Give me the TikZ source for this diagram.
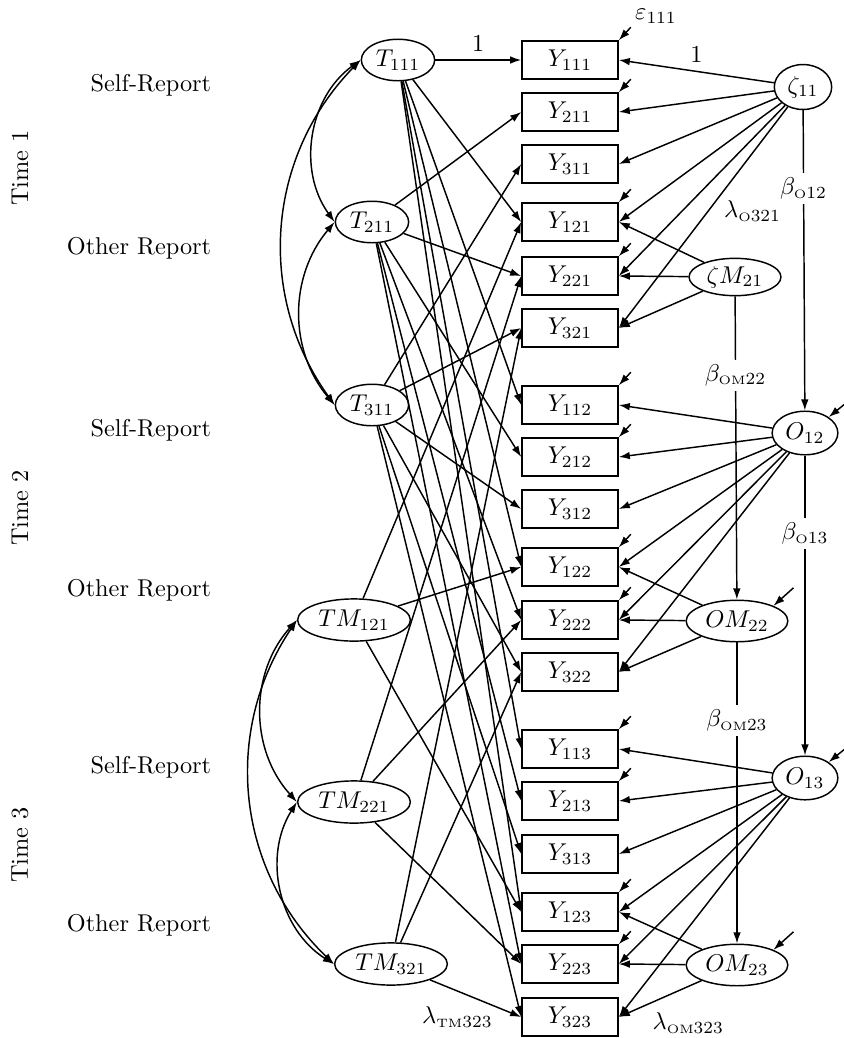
\documentclass[tikz,border=0pt]{standalone}
\usepackage{amsmath}
\usetikzlibrary{arrows.meta,shapes.geometric}
\tikzset{
  >={Latex[length=1.6mm,width=1.1mm]},
  every node/.style={font=\normalsize},
  obs/.style={draw,rectangle,minimum width=13.9mm,minimum height=5.5mm,inner sep=1pt},
  trait/.style={draw,ellipse,minimum width=10.6mm,minimum height=6mm,inner sep=0pt},
  tmeth/.style={trait,minimum width=16.3mm,minimum height=6.1mm},
  occ/.style={draw,ellipse,minimum width=9.5mm,minimum height=6.3mm,inner sep=0pt},
  occm/.style={occ,minimum width=14.7mm,minimum height=6mm},
  load/.style={->,semithick},
  corr/.style={<->,semithick},
  resid/.style={->,semithick},
  betalbl/.style={fill=white,inner sep=2pt,pos=.26},
  report/.style={anchor=east},
  timelbl/.style={rotate=90},
}
\newcommand{\lsub}[1]{{\scriptscriptstyle\mathrm{#1}}}

\begin{document}
\begin{tikzpicture}[x=0.1446mm,y=-0.1446mm,semithick]
  \useasboundingbox (0,0) rectangle (843,1038);

  % rows
  \node[timelbl] (time1) at (20,168) {Time 1};
  \node[timelbl] (time2) at (20,508) {Time 2};
  \node[timelbl] (time3) at (20,845) {Time 3};
  \node[report] (self1) at (220,85) {Self-Report};
  \node[report] (other1) at (220,248) {Other Report};
  \node[report] (self2) at (220,430) {Self-Report};
  \node[report] (other2) at (220,590) {Other Report};
  \node[report] (self3) at (220,767) {Self-Report};
  \node[report] (other3) at (220,925) {Other Report};

  % observed
  \node[obs] (y111) at (570,60) {$Y_{111}$};
  \node[obs] (y211) at (570,112) {$Y_{211}$};
  \node[obs] (y311) at (570,164) {$Y_{311}$};
  \node[obs] (y121) at (570,222) {$Y_{121}$};
  \node[obs] (y221) at (570,276) {$Y_{221}$};
  \node[obs] (y321) at (570,328) {$Y_{321}$};
  \node[obs] (y112) at (570,405) {$Y_{112}$};
  \node[obs] (y212) at (570,457) {$Y_{212}$};
  \node[obs] (y312) at (570,509) {$Y_{312}$};
  \node[obs] (y122) at (570,567) {$Y_{122}$};
  \node[obs] (y222) at (570,620) {$Y_{222}$};
  \node[obs] (y322) at (570,672) {$Y_{322}$};
  \node[obs] (y113) at (570,749) {$Y_{113}$};
  \node[obs] (y213) at (570,801) {$Y_{213}$};
  \node[obs] (y313) at (570,854) {$Y_{313}$};
  \node[obs] (y123) at (570,912) {$Y_{123}$};
  \node[obs] (y223) at (570,964) {$Y_{223}$};
  \node[obs] (y323) at (570,1017) {$Y_{323}$};

  % traits
  \node[trait] (t111) at (398,60) {$T_{111}$};
  \node[trait] (t211) at (372,222) {$T_{211}$};
  \node[trait] (t311) at (372,405) {$T_{311}$};
  \node[tmeth] (tm121) at (354,620) {$TM_{121}$};
  \node[tmeth] (tm221) at (354,802) {$TM_{221}$};
  \node[tmeth] (tm321) at (391,964) {$TM_{321}$};

  % occasions
  \node[occ,minimum width=8.3mm,minimum height=6.5mm] (z11) at (803,87) {$\zeta_{11}$};
  \node[occm,minimum width=13.3mm,minimum height=5.4mm] (zm21) at (735,277) {$\zeta M_{21}$};
  \node[occ] (o12) at (805,433) {$O_{12}$};
  \node[occm] (om22) at (737,621) {$OM_{22}$};
  \node[occ] (o13) at (805,778) {$O_{13}$};
  \node[occm] (om23) at (737,965) {$OM_{23}$};

  % trait loadings
  \draw[load] (t111) -- node[above]{1} (y111.west);
  \draw[load] (t111) -- (y121.west); \draw[load] (t111) -- (y112.west); \draw[load] (t111) -- (y122.west);
  \draw[load] (t111) -- (y113.west); \draw[load] (t111) -- (y123.west);
  \draw[load] (t211) -- (y211.west); \draw[load] (t211) -- (y221.west); \draw[load] (t211) -- (y212.west);
  \draw[load] (t211) -- (y222.west); \draw[load] (t211) -- (y213.west); \draw[load] (t211) -- (y223.west);
  \draw[load] (t311) -- (y311.west); \draw[load] (t311) -- (y321.west); \draw[load] (t311) -- (y312.west);
  \draw[load] (t311) -- (y322.west); \draw[load] (t311) -- (y313.west); \draw[load] (t311) -- (y323.west);
  \draw[load] (tm121) -- (y121.west); \draw[load] (tm121) -- (y122.west); \draw[load] (tm121) -- (y123.west);
  \draw[load] (tm221) -- (y221.west); \draw[load] (tm221) -- (y222.west); \draw[load] (tm221) -- (y223.west);
  \draw[load] (tm321) -- (y321.west); \draw[load] (tm321) -- (y322.west);
  \draw[load] (tm321) -- node[below=1mm,pos=.3]{$\lambda_{\lsub{TM}323}$} (y323.west);

  % trait correlations
  \draw[corr] (t111.west) to[bend right=45] (t211.west);
  \draw[corr] (t211.west) to[bend right=40] (t311.west);
  \draw[corr] (t111.west) to[bend right=40] (t311.west);
  \draw[corr] (tm121.west) to[bend right=42] (tm221.west);
  \draw[corr] (tm221.west) to[bend right=45] (tm321.west);
  \draw[corr] (tm121.west) to[bend right=40] (tm321.west);

  % occasion loadings
  \draw[load] (z11) -- node[above]{1} (y111.east);
  \draw[load] (z11) -- (y211.east); \draw[load] (z11) -- (y311.east); \draw[load] (z11) -- (y121.east);
  \draw[load] (z11) -- (y221.east);
  \draw[load] (z11) -- node[right=1mm,pos=.47]{$\lambda_{\lsub{O}321}$} (y321.east);
  \draw[load] (zm21) -- (y121.east); \draw[load] (zm21) -- (y221.east); \draw[load] (zm21) -- (y321.east);
  \draw[load] (o12) -- (y112.east); \draw[load] (o12) -- (y212.east); \draw[load] (o12) -- (y312.east);
  \draw[load] (o12) -- (y122.east); \draw[load] (o12) -- (y222.east); \draw[load] (o12) -- (y322.east);
  \draw[load] (om22) -- (y122.east); \draw[load] (om22) -- (y222.east); \draw[load] (om22) -- (y322.east);
  \draw[load] (o13) -- (y113.east); \draw[load] (o13) -- (y213.east); \draw[load] (o13) -- (y313.east);
  \draw[load] (o13) -- (y123.east); \draw[load] (o13) -- (y223.east); \draw[load] (o13) -- (y323.east);
  \draw[load] (om23) -- (y123.east); \draw[load] (om23) -- (y223.east);
  \draw[load] (om23) -- node[below=2.5mm,pos=.16]{$\lambda_{\lsub{OM}323}$} (y323.east);

  % autoregressions
  \draw[load] (z11) -- node[betalbl]{$\beta_{\lsub{O}12}$} (o12);
  \draw[load] (o12) -- node[betalbl]{$\beta_{\lsub{O}13}$} (o13);
  \draw[load] (zm21) -- node[betalbl]{$\beta_{\lsub{OM}22}$} (om22);
  \draw[load] (om22) -- node[betalbl]{$\beta_{\lsub{OM}23}$} (om23);

  % residuals
  \node (eps) at (656,16) {$\varepsilon_{111}$};
  \draw[resid] (y111.north east) ++(12,-13) -- (y111.north east);
  \draw[resid] (y211.north east) ++(12,-13) -- (y211.north east);
  \draw[resid] (y121.north east) ++(12,-13) -- (y121.north east);
  \draw[resid] (y221.north east) ++(12,-13) -- (y221.north east);
  \draw[resid] (y112.north east) ++(12,-13) -- (y112.north east);
  \draw[resid] (y212.north east) ++(12,-13) -- (y212.north east);
  \draw[resid] (y122.north east) ++(12,-13) -- (y122.north east);
  \draw[resid] (y222.north east) ++(12,-13) -- (y222.north east);
  \draw[resid] (y113.north east) ++(12,-13) -- (y113.north east);
  \draw[resid] (y213.north east) ++(12,-13) -- (y213.north east);
  \draw[resid] (y123.north east) ++(12,-13) -- (y123.north east);
  \draw[resid] (y223.north east) ++(12,-13) -- (y223.north east);
  \draw[resid] (o12.north east) ++(16,-13) -- (o12.north east);
  \draw[resid] (o13.north east) ++(16,-13) -- (o13.north east);
  \draw[resid] (om22.north east) ++(20,-18) -- (om22.north east);
  \draw[resid] (om23.north east) ++(20,-18) -- (om23.north east);
\end{tikzpicture}
\end{document}
